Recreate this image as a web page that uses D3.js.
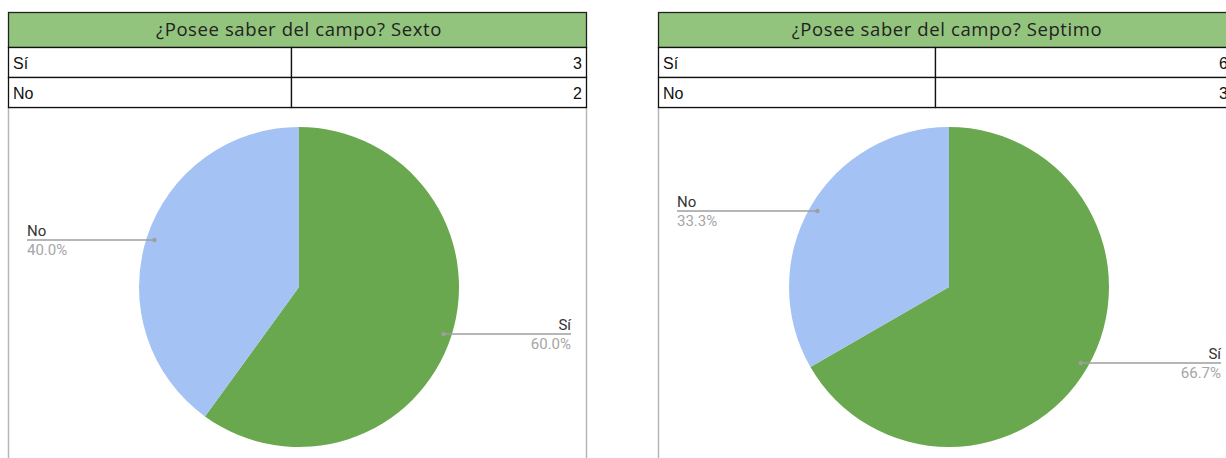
<!DOCTYPE html>
<html>
<head>
<meta charset="utf-8">
<script src="https://cdn.jsdelivr.net/npm/d3@7"></script>
<style>
  body { margin: 0; background: #fff; }
</style>
</head>
<body>
<div id="chart"></div>
<script>
// data
const categories = ["Sí", "No"];
const sextoValues = [3, 2];
const septimoValues = [6, 3];
const titles = ["¿Posee saber del campo? Sexto", "¿Posee saber del campo? Septimo"];

let width = 1226;
let height = 458;

let svg = d3.select("#chart")
    .append("svg")
    .attr("width", width)
    .attr("height", height);

//colours per category
let color = d3.scaleOrdinal()
    .domain(categories)
    .range(["#6aa84f", "#a4c2f4"]);

let drawPanel = function (x0, panelWidth, colSplit, title, values) {
    let g = svg.append("g").attr("transform", `translate(${x0},0)`);

    //chart box below the table
    g.append("rect")
        .attr("x", 0.5).attr("y", 107.5)
        .attr("width", panelWidth).attr("height", 400)
        .attr("fill", "#fff")
        .attr("stroke", "#b7b7b7")
        .attr("stroke-width", 1.5);

    //header
    g.append("rect")
        .attr("x", 0.5).attr("y", 12.5)
        .attr("width", panelWidth).attr("height", 35)
        .attr("fill", "#93c47d")
        .attr("stroke", "#222")
        .attr("stroke-width", 1.3);
    g.append("text")
        .attr("x", panelWidth / 2 + 2)
        .attr("y", 36)
        .attr("text-anchor", "middle")
        .attr("font-family", "'Open Sans', sans-serif")
        .attr("font-size", 18.5)
        .attr("letter-spacing", 0.6)
        .attr("fill", "#222")
        .text(title);

    //value rows
    let rowY = d3.scaleBand().domain(categories).range([47.5, 107.5]);
    let rows = g.selectAll(".row")
        .data(categories)
        .join("g")
        .attr("class", "row");
    rows.append("rect")
        .attr("x", 0.5).attr("y", d => rowY(d))
        .attr("width", colSplit).attr("height", rowY.bandwidth())
        .attr("fill", "#fff").attr("stroke", "#111").attr("stroke-width", 1.3);
    rows.append("rect")
        .attr("x", colSplit + 0.5).attr("y", d => rowY(d))
        .attr("width", panelWidth - colSplit).attr("height", rowY.bandwidth())
        .attr("fill", "#fff").attr("stroke", "#111").attr("stroke-width", 1.3);
    rows.append("text")
        .attr("x", 5)
        .attr("y", d => rowY(d) + rowY.bandwidth() / 2 + 6)
        .attr("font-family", "'Liberation Sans Narrow', Arial, sans-serif")
        .attr("font-size", 16)
        .attr("fill", "#111")
        .text(d => d);
    rows.append("text")
        .attr("x", panelWidth - 4)
        .attr("y", d => rowY(d) + rowY.bandwidth() / 2 + 6)
        .attr("text-anchor", "end")
        .attr("font-family", "'Liberation Sans Narrow', Arial, sans-serif")
        .attr("font-size", 16)
        .attr("fill", "#111")
        .text((d, i) => values[i]);

    //pie
    let cx = 291, cy = 287, r = 160;
    let total = d3.sum(values);
    let pie = d3.pie().sort(null).value(d => d.value);
    let arcs = pie(categories.map((c, i) => ({ name: c, value: values[i] })));
    let arc = d3.arc().innerRadius(0).outerRadius(r);

    let pieG = g.append("g").attr("transform", `translate(${cx},${cy})`);
    pieG.selectAll("path")
        .data(arcs)
        .join("path")
        .attr("d", arc)
        .attr("fill", d => color(d.data.name));

    //leader lines + labels
    let labelR = r * 0.95;
    let labels = g.selectAll(".lbl")
        .data(arcs)
        .join("g")
        .attr("class", "lbl");
    labels.each(function (d) {
        let a = (d.startAngle + d.endAngle) / 2;
        let px = cx + labelR * Math.sin(a);
        let py = cy - labelR * Math.cos(a);
        let right = a < Math.PI;
        let ex = right ? 563 : 19;
        let sel = d3.select(this);
        sel.append("line")
            .attr("x1", px).attr("y1", py)
            .attr("x2", ex).attr("y2", py)
            .attr("stroke", "#9e9e9e").attr("stroke-width", 1.5);
        sel.append("circle")
            .attr("cx", px).attr("cy", py).attr("r", 2.2)
            .attr("fill", "#9e9e9e");
        sel.append("text")
            .attr("x", ex).attr("y", py - 4)
            .attr("text-anchor", right ? "end" : "start")
            .attr("font-family", "Roboto, Arial, sans-serif")
            .attr("font-size", 15)
            .attr("fill", "#333")
            .text(d.data.name);
        sel.append("text")
            .attr("x", ex).attr("y", py + 15)
            .attr("text-anchor", right ? "end" : "start")
            .attr("font-family", "Roboto, Arial, sans-serif")
            .attr("font-size", 15)
            .attr("fill", "#a6a6a6")
            .text(d3.format(".1%")(d.data.value / total));
    });
};

drawPanel(8, 578, 283, titles[0], sextoValues);
drawPanel(658, 574, 277, titles[1], septimoValues);
</script>
</body>
</html>
